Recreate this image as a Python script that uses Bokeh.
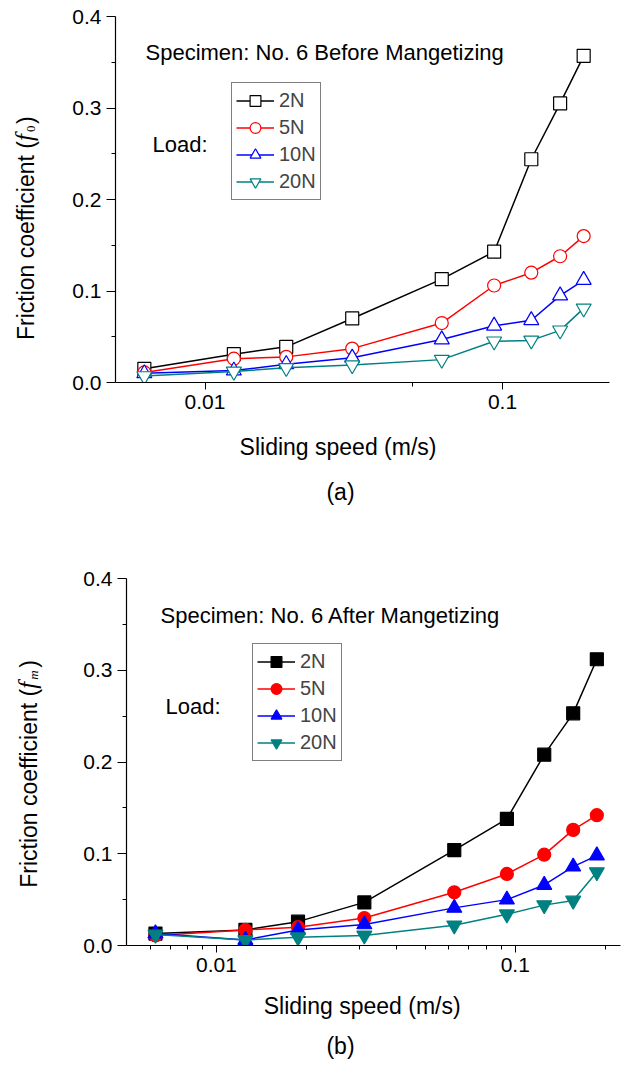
import math
from bokeh.plotting import figure
from bokeh.layouts import column, row
from bokeh.models import (Range1d, FixedTicker, PrintfTickFormatter, CustomJSTickFormatter,
                          Label, Legend, LegendItem)
from bokeh.embed import file_html
from bokeh.resources import INLINE

# Sliding speeds (m/s)
speed = [0.00625, 0.0125, 0.01875, 0.03125, 0.0625, 0.09375, 0.125, 0.15625, 0.1875]

# Friction coefficient before magnetizing (f0)
f0_2N = [0.015, 0.031, 0.039, 0.070, 0.113, 0.143, 0.244, 0.305, 0.357]
f0_5N = [0.011, 0.026, 0.028, 0.037, 0.065, 0.106, 0.120, 0.138, 0.160]
f0_10N = [0.010, 0.013, 0.020, 0.027, 0.047, 0.062, 0.068, 0.095, 0.112]
f0_20N = [0.007, 0.012, 0.016, 0.019, 0.025, 0.045, 0.046, 0.057, 0.081]

# Friction coefficient after magnetizing (fm)
fm_2N = [0.013, 0.017, 0.026, 0.047, 0.104, 0.138, 0.208, 0.253, 0.312]
fm_5N = [0.011, 0.017, 0.020, 0.030, 0.058, 0.078, 0.099, 0.126, 0.142]
fm_10N = [0.013, 0.006, 0.017, 0.023, 0.041, 0.050, 0.066, 0.086, 0.098]
fm_20N = [0.012, 0.006, 0.009, 0.011, 0.022, 0.034, 0.044, 0.049, 0.080]

loads = ["2N", "5N", "10N", "20N"]
colors = ["#000000", "#ff0000", "#0000ff", "#008080"]
markers = ["square", "circle", "triangle", "inverted_triangle"]
sizes = [13, 13, 15, 15]

y_ticks = [0.0, 0.1, 0.2, 0.3, 0.4]
y_minor = [0.05, 0.15, 0.25, 0.35]
x_major = [0.01, 0.1]

FONT = "Liberation Sans"
SERIF = "Liberation Serif"


def text_label(fig, x, y, text, size="22px", align="left", baseline="alphabetic",
               angle=0.0, font=FONT, style="normal"):
    fig.add_layout(Label(x=x, y=y, x_units="screen", y_units="screen", text=text,
                         text_font=font, text_font_size=size, text_font_style=style,
                         text_align=align, text_baseline=baseline, angle=angle,
                         text_color="black"))


def blank(width, height):
    f = figure(width=width, height=height, output_backend="svg", toolbar_location=None,
               title=None, x_axis_location=None, y_axis_location=None,
               x_range=Range1d(0, 1), y_range=Range1d(0, 1), min_border=0)
    f.outline_line_color = None
    f.grid.visible = False
    f.background_fill_color = "white"
    f.border_fill_color = "white"
    return f


def y_title(width, height, x, y, sub, sub_italic, sub_w):
    # rotated title pieces; y is measured from the bottom of the neighbouring plot frame
    f = blank(width, height)
    a = math.pi / 2
    text_label(f, x, y, "Friction coefficient (", size="23px", baseline="middle", angle=a)
    text_label(f, x - 1, y + 199, "f", size="25px", baseline="middle", angle=a,
               font=SERIF, style="italic")
    text_label(f, x + 5, y + 208, sub, size="13px", baseline="middle", angle=a,
               font=SERIF, style="italic" if sub_italic else "normal")
    text_label(f, x, y + 209 + sub_w, ")", size="23px", baseline="middle", angle=a)
    return f


def caption(height, title_xy, tag, tag_xy):
    f = blank(625, height)
    text_label(f, title_xy[0], title_xy[1], "Sliding speed (m/s)", size="23px", align="center")
    text_label(f, tag_xy[0], tag_xy[1], tag, size="23px", align="center")
    return f


def make_panel(series, filled, x_end, left, right, top, frame_h, bottom, x_minor,
               specimen, legend_loc):
    p = figure(x_axis_type="log", x_range=Range1d(0.005, x_end), y_range=Range1d(0, 0.4),
               frame_width=494, frame_height=frame_h, output_backend="svg",
               toolbar_location=None, title=None,
               min_border_left=left, min_border_right=right,
               min_border_top=top, min_border_bottom=bottom)
    p.outline_line_color = None
    p.grid.visible = False
    p.background_fill_color = "white"
    p.border_fill_color = "white"

    p.xaxis.ticker = FixedTicker(ticks=x_major, minor_ticks=x_minor)
    p.xaxis.formatter = CustomJSTickFormatter(code="return tick.toString();")
    p.yaxis.ticker = FixedTicker(ticks=y_ticks, minor_ticks=y_minor)
    p.yaxis.formatter = PrintfTickFormatter(format="%.1f")
    for ax in (p.xaxis[0], p.yaxis[0]):
        ax.axis_line_color = "black"
        ax.axis_line_width = 1.2
        ax.major_tick_line_color = "black"
        ax.minor_tick_line_color = "black"
        ax.major_tick_in = 0
        ax.minor_tick_in = 0
        ax.minor_tick_out = 4
        ax.major_label_text_font = FONT
        ax.major_label_text_font_size = "21px"
        ax.major_label_text_color = "black"
        ax.major_label_standoff = 5
    p.yaxis.major_tick_out = 9
    p.xaxis.major_tick_out = 7

    items = []
    for ys, lab, col, mk, sz in zip(series, loads, colors, markers, sizes):
        lr = p.line(speed, ys, line_color=col, line_width=1.5)
        sr = p.scatter(speed, ys, marker=mk, size=sz, line_color=col, line_width=1.2,
                       fill_color=col if filled else "white")
        items.append(LegendItem(label=lab, renderers=[lr, sr]))

    legend = Legend(items=items, location=legend_loc, glyph_width=38, glyph_height=27,
                    label_height=27, spacing=0, padding=4, margin=0, label_standoff=5,
                    label_text_font=FONT, label_text_font_size="20px",
                    border_line_color="black", border_line_width=1,
                    background_fill_color="white", background_fill_alpha=1.0)
    p.add_layout(legend)

    for x, y, text in specimen:
        text_label(p, x, y, text)
    return p


# (a) before magnetizing
p1 = make_panel([f0_2N, f0_5N, f0_10N, f0_20N], False, 0.229, 55, 16, 16, 366, 40,
                [0.05],
                [(30, 330, "Specimen: No. 6 Before Mangetizing"), (37, 238.5, "Load:")],
                (116, 182))
yt1 = y_title(60, 422, 25, 42.5, "0", False, 7)
cap1 = caption(111, (337.5, 87), "(a)", (340, 42))

# (b) after magnetizing
p2 = make_panel([fm_2N, fm_5N, fm_10N, fm_20N], True, 0.225, 56, 5, 45, 367, 40,
                [0.006, 0.007, 0.008, 0.009, 0.02, 0.03, 0.04, 0.05, 0.06, 0.07, 0.08,
                 0.09, 0.2],
                [(34, 330, "Specimen: No. 6 After Mangetizing"), (39, 239, "Load:")],
                (126, 184))
yt2 = y_title(70, 452, 28, 57.7, "m", True, 11)
cap2 = caption(81, (361.7, 61), "(b)", (340, 21))

layout = column(row(yt1, p1, spacing=0), cap1, row(yt2, p2, spacing=0), cap2, spacing=0)
open("out.html", "w").write(file_html(layout, INLINE))
